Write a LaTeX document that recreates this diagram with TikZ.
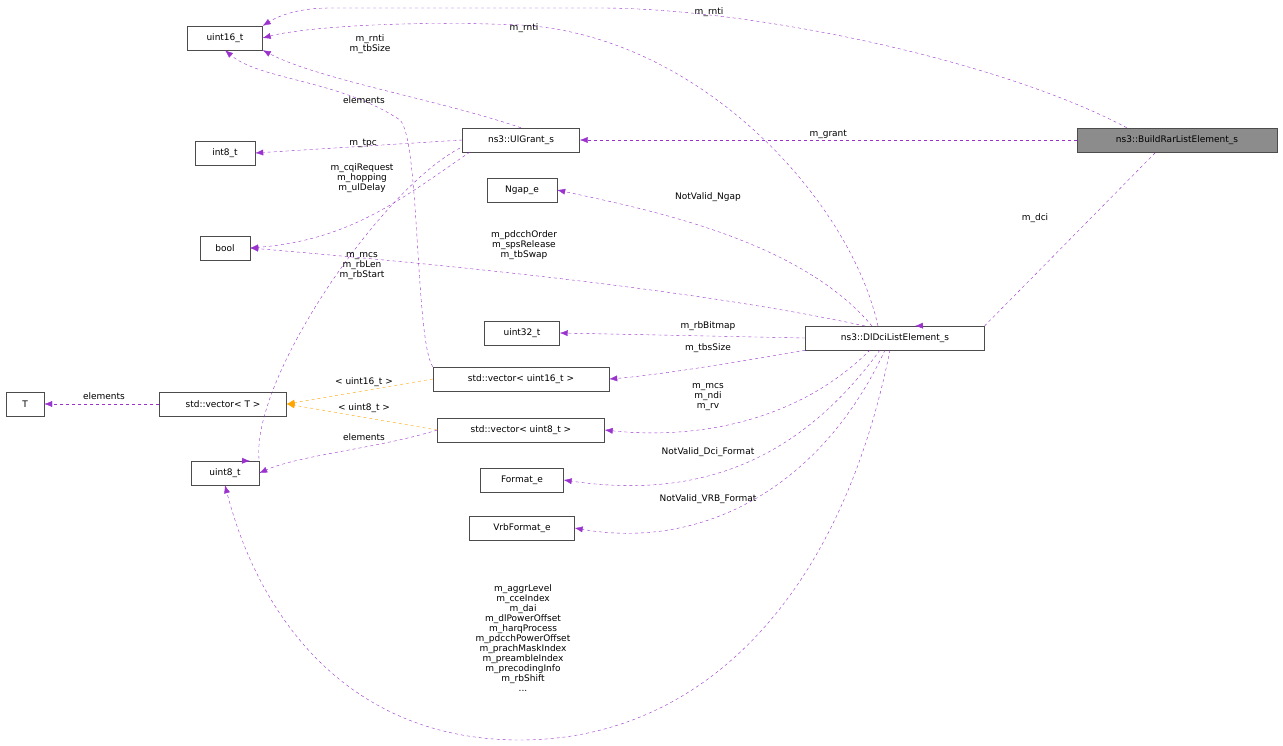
\documentclass[tikz,border=0pt]{standalone}
\usepackage{fontspec}
\setmainfont{DejaVu Sans}
\usetikzlibrary{arrows.meta}
\definecolor{pur}{HTML}{9A32CD}
\definecolor{org}{HTML}{FFA500}
\begin{document}
\begin{tikzpicture}[x=1pt,y=-1pt,
  box/.style={draw=black!70,fill=white,font=\fontsize{9}{10}\selectfont,minimum height=24,inner xsep=5pt,inner ysep=0pt},
  use/.style={draw=pur,dashed,-{Latex[length=8pt,width=6pt]}},
  tmpl/.style={draw=org,dashed,-{Latex[length=8pt,width=6pt]}},
  lab/.style={font=\fontsize{9}{10}\selectfont,align=center,inner sep=0pt}]
\useasboundingbox (0,0) rectangle (1283,746);
\node[box,minimum width=75] (u16) at (225,38) {uint16\_t};
\node[box,minimum width=60] (i8) at (225,153) {int8\_t};
\node[box,minimum width=50] (bool) at (225,248) {bool};
\node[box,minimum width=68] (u8) at (225,473) {uint8\_t};
\node[box,minimum width=38] (T) at (25,404) {T};
\node[box,minimum width=127] (vT) at (223,404) {std::vector< T >};
\node[box,minimum width=117] (ul) at (521,140) {ns3::UlGrant\_s};
\node[box,minimum width=70] (ngap) at (522,190) {Ngap\_e};
\node[box,minimum width=75] (u32) at (522,333) {uint32\_t};
\node[box,minimum width=176] (v16) at (521,379) {std::vector< uint16\_t >};
\node[box,minimum width=167] (v8) at (521,430) {std::vector< uint8\_t >};
\node[box,minimum width=83] (fmt) at (522,480) {Format\_e};
\node[box,minimum width=105] (vrb) at (522,528) {VrbFormat\_e};
\node[box,minimum width=200,fill=black!45] (br) at (1177,140) {ns3::BuildRarListElement\_s};
\node[box,minimum width=179] (dl) at (895,338) {ns3::DlDciListElement\_s};

\draw[use] (br.north west)++(50,0) .. controls (1000,60) and (750,8) .. (600,8) -- (330,8) .. controls (300,8) and (280,15) .. (u16.north east);
\node[lab] at (709,12) {m\_rnti};
\draw[use] (br) -- (ul) node[lab,pos=0.5,above=1pt] {m\_grant};
\draw[use] (1155,153) -- (dl.north east)++(-65,0) -- (915,326);
\node[lab] at (1035,218) {m\_dci};
\draw[use] (ul.north) .. controls (440,100) and (320,80) .. (u16.south east);
\node[lab] at (370,44) {m\_rnti\\m\_tbSize};
\draw[use] (ul.west) -- (i8.east);
\node[lab] at (363,143) {m\_tpc};
\draw[use] (470,152) .. controls (400,200) and (350,240) .. (bool.east);
\node[lab] at (362,178) {m\_cqiRequest\\m\_hopping\\m\_ulDelay};
\draw[use] (460,148) .. controls (380,190) and (250,380) .. (u8.north east)++(-15,0) -- (250,461);
\node[lab] at (362,266) {m\_mcs\\m\_rbLen\\m\_rbStart};
\draw[use] (878,326) .. controls (850,200) and (700,35) .. (520,25) .. controls (400,20) and (300,28) .. (u16.east);
\node[lab] at (524,28) {m\_rnti};
\draw[use] (872,326) .. controls (800,240) and (650,210) .. (ngap.east);
\node[lab] at (708,197) {NotValid\_Ngap};
\draw[use] (865,326) .. controls (700,290) and (450,265) .. (bool.east);
\node[lab] at (524,245) {m\_pdcchOrder\\m\_spsRelease\\m\_tbSwap};
\draw[use] (dl.west) -- (u32.east);
\node[lab] at (708,326) {m\_rbBitmap};
\draw[use] (dl.south west) .. controls (750,360) and (660,375) .. (v16.east);
\node[lab] at (708,348) {m\_tbsSize};
\draw[use] (870,350) .. controls (800,420) and (700,440) .. (v8.east);
\node[lab] at (708,397) {m\_mcs\\m\_ndi\\m\_rv};
\draw[use] (880,350) .. controls (800,460) and (700,500) .. (fmt.east);
\node[lab] at (708,452) {NotValid\_Dci\_Format};
\draw[use] (885,350) .. controls (820,490) and (700,550) .. (vrb.east);
\node[lab] at (708,499) {NotValid\_VRB\_Format};
\draw[use] (890,350) .. controls (840,600) and (700,740) .. (520,740) .. controls (350,740) and (260,620) .. (u8.south);
\node[lab] at (523,638) {m\_aggrLevel\\m\_cceIndex\\m\_dai\\m\_dlPowerOffset\\m\_harqProcess\\m\_pdcchPowerOffset\\m\_prachMaskIndex\\m\_preambleIndex\\m\_precodingInfo\\m\_rbShift\\...};
\draw[use] (v16.north west)++(0,0) .. controls (415,340) and (420,140) .. (400,120) .. controls (340,80) and (260,80) .. (u16.south);
\node[lab] at (364,100) {elements};
\draw[use] (v8.west) .. controls (380,448) and (300,455) .. (u8.east);
\node[lab] at (364,437) {elements};
\draw[use] (vT.west) -- (T.east);
\node[lab] at (104,396) {elements};
\draw[tmpl] (v16.west) -- (vT.east);
\node[lab] at (364,382) {< uint16\_t >};
\draw[tmpl] (v8.west) -- (vT.east);
\node[lab] at (364,408) {< uint8\_t >};
\end{tikzpicture}
\end{document}
